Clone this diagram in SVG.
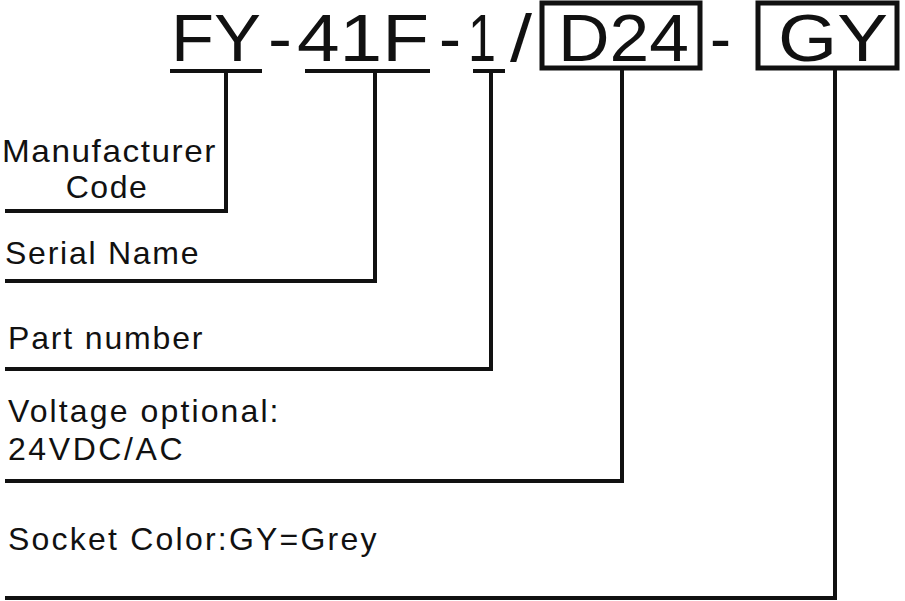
<svg xmlns="http://www.w3.org/2000/svg" width="905" height="601" viewBox="0 0 905 601">
<style>
.big{font-family:"Liberation Sans",Arial,sans-serif;font-size:67px;fill:#111}
.lbl{font-family:"Liberation Sans",Arial,sans-serif;font-size:32px;fill:#111;letter-spacing:1.5px}
.ln{stroke:#111;stroke-width:4;fill:none}
.bx{stroke:#111;stroke-width:5;fill:none}
</style>
<rect width="905" height="601" fill="#fff"/>
<g id="code">
<text class="big" x="171" y="61" textLength="90" lengthAdjust="spacingAndGlyphs">FY</text>
<text class="big" x="268" y="61" textLength="24" lengthAdjust="spacingAndGlyphs">-</text>
<text class="big" x="297" y="61" textLength="132" lengthAdjust="spacingAndGlyphs">41F</text>
<text class="big" x="439" y="61" textLength="22" lengthAdjust="spacingAndGlyphs">-</text>
<text class="big" x="468" y="61" textLength="28" lengthAdjust="spacingAndGlyphs">1</text>
<text class="big" x="510" y="61" textLength="22" lengthAdjust="spacingAndGlyphs">/</text>
<text class="big" x="558" y="61" textLength="131" lengthAdjust="spacingAndGlyphs">D24</text>
<text class="big" x="710" y="61" textLength="21" lengthAdjust="spacingAndGlyphs">-</text>
<text class="big" x="778" y="61" textLength="110" lengthAdjust="spacingAndGlyphs">GY</text>
<rect class="bx" x="542" y="3" width="158" height="65"/>
<rect class="bx" x="758" y="3" width="139" height="65"/>
</g>
<g id="connectors">
<path class="ln" d="M170 71H262M226 71V211H5"/>
<path class="ln" d="M305 71H430M375 71V281H5"/>
<path class="ln" d="M473 71H505M491 71V369H5"/>
<path class="ln" d="M622 68V481H5"/>
<path class="ln" d="M835 68V598H5"/>
</g>
<g id="manufacturer"><text class="lbl" x="2" y="162" textLength="215" lengthAdjust="spacingAndGlyphs">Manufacturer</text><text class="lbl" x="107" y="198" text-anchor="middle">Code</text></g>
<g id="serial"><text class="lbl" x="5" y="264" textLength="195">Serial Name</text></g>
<g id="part"><text class="lbl" x="8" y="349" textLength="196">Part number</text></g>
<g id="voltage"><text class="lbl" x="8" y="422" textLength="272">Voltage optional:</text><text class="lbl" x="8" y="460" textLength="176">24VDC/AC</text></g>
<g id="socket"><text class="lbl" x="8" y="550" textLength="370">Socket Color:GY=Grey</text></g>
</svg>
